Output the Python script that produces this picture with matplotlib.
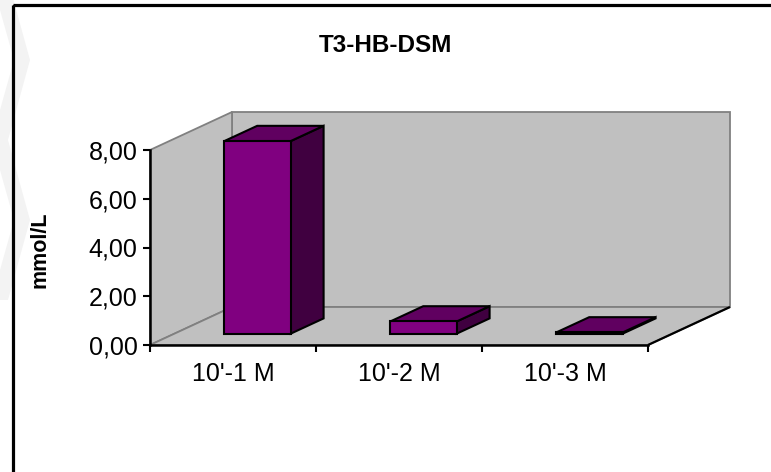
import matplotlib
matplotlib.use("Agg")
import matplotlib.pyplot as plt
from matplotlib.patches import Polygon, Rectangle
from matplotlib.ticker import FixedLocator, FuncFormatter

plt.rcParams['font.family'] = ['Liberation Sans', 'DejaVu Sans']

# Chart data
title = "T3-HB-DSM"
y_label = "mmol/L"
categories = ["10'-1 M", "10'-2 M", "10'-3 M"]
values = [7.90, 0.50, 0.05]
y_ticks = [0, 2, 4, 6, 8]

W, H = 771, 472
fig = plt.figure(figsize=(W / 100, H / 100), dpi=100)
fig.patch.set_facecolor("white")

# Faint background chevrons on the page
bg = fig.add_axes([0, 0, 1, 1], zorder=-5)
bg.set_xlim(0, W)
bg.set_ylim(H, 0)
bg.axis("off")
for top in (-20, 140):
    bg.add_patch(Polygon([(0, top), (8, top), (30, top + 80), (8, top + 160),
                          (0, top + 160), (0, top + 130), (14, top + 80), (0, top + 30)],
                         closed=True, facecolor="#f3f3f3", edgecolor="none"))
# Outer chart frame
bg.add_patch(Rectangle((13, 4.5), 800, 500, fill=False, edgecolor="black", linewidth=2.3))

# Front plane of the 3-D plot area (pixels)
left_px, right_px, top_px, bottom_px = 150, 648, 150, 345
ax = fig.add_axes([left_px / W, (H - bottom_px) / H,
                   (right_px - left_px) / W, (bottom_px - top_px) / H])
n = len(categories)
ymax = y_ticks[-1]
ax.set_xlim(0, n)
ax.set_ylim(0, ymax)
ax.patch.set_alpha(0)

# Oblique depth offset (pixels) converted to data units
depth_px_x, depth_px_y = 82, 38
DX = depth_px_x / ((right_px - left_px) / n)
DY = depth_px_y / ((bottom_px - top_px) / ymax)


def P(x, y, d):
    return (x + d * DX, y + d * DY)


wall = "#C0C0C0"
wall_edge = "#808080"

def face(pts, fc, ec, lw, z):
    ax.add_patch(Polygon(pts, closed=True, facecolor=fc, edgecolor=ec,
                         linewidth=lw, clip_on=False, zorder=z, joinstyle="miter"))

# Back wall, side wall, floor
face([P(0, 0, 1), P(n, 0, 1), P(n, ymax, 1), P(0, ymax, 1)], wall, wall_edge, 1.3, 1)
face([P(0, 0, 0), P(0, 0, 1), P(0, ymax, 1), P(0, ymax, 0)], wall, wall_edge, 1.3, 1)
face([P(0, 0, 0), P(n, 0, 0), P(n, 0, 1), P(0, 0, 1)], wall, wall_edge, 1.3, 1)
ax.plot(*zip(P(n, 0, 0), P(n, 0, 1)), color="black", linewidth=1.6,
        clip_on=False, zorder=2, solid_capstyle="butt")

# 3-D bars
bw, d0, d1 = 0.4, 0.3, 0.7
front_c, top_c, side_c = "#800080", "#600060", "#400040"
for i, v in enumerate(values):
    x0 = i + (1 - bw) / 2
    x1 = x0 + bw
    face([P(x1, 0, d0), P(x1, 0, d1), P(x1, v, d1), P(x1, v, d0)], side_c, "black", 1.5, 3)
    face([P(x0, v, d0), P(x1, v, d0), P(x1, v, d1), P(x0, v, d1)], top_c, "black", 1.5, 3)
    face([P(x0, 0, d0), P(x1, 0, d0), P(x1, v, d0), P(x0, v, d0)], front_c, "black", 1.5, 4)

# Axes styling
for s in ("top", "right"):
    ax.spines[s].set_visible(False)
for s in ("left", "bottom"):
    ax.spines[s].set_linewidth(1.8)
    ax.spines[s].set_zorder(5)

ax.yaxis.set_major_locator(FixedLocator(y_ticks))
ax.yaxis.set_major_formatter(FuncFormatter(lambda v, _: f"{v:.2f}".replace(".", ",")))
ax.tick_params(axis="y", direction="out", length=5, width=1.5, pad=4, labelsize=18)

ax.xaxis.set_major_locator(FixedLocator(list(range(n + 1))))
ax.xaxis.set_major_formatter(FuncFormatter(lambda v, _: ""))
ax.xaxis.set_minor_locator(FixedLocator([i + 0.5 for i in range(n)]))
ax.set_xticklabels(categories, minor=True)
ax.tick_params(axis="x", which="major", direction="out", length=5, width=1.5)
ax.tick_params(axis="x", which="minor", length=0, pad=12, labelsize=18)

fig.text(385 / W, 1 - 45 / H, title, ha="center", va="center",
         fontsize=17.5, fontweight="bold")
fig.text(40 / W, 1 - 250 / H, y_label, ha="center", va="center",
         rotation=90, fontsize=15.5, fontweight="bold")

fig.savefig("out.png", dpi=100, facecolor="white")
